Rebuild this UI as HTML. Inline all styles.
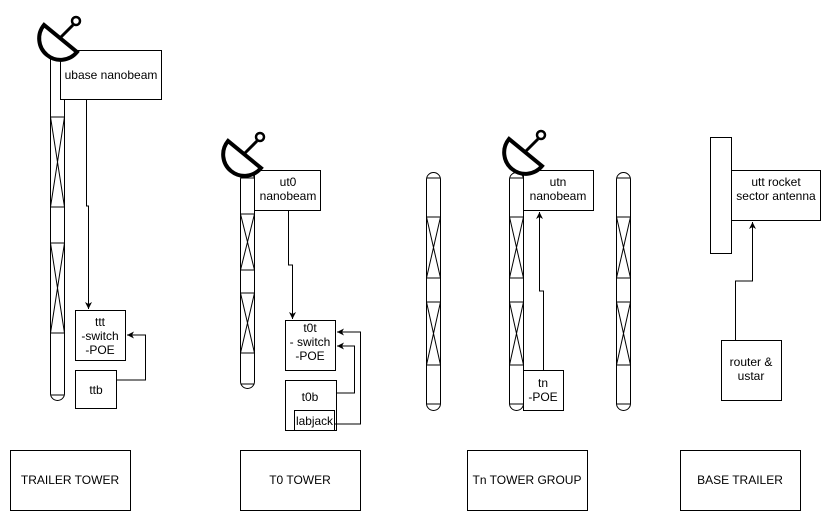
<!DOCTYPE html>
<html><head><meta charset="utf-8"><style>
html,body{margin:0;padding:0;background:#fff;}
svg{display:block;font-family:"Liberation Sans",Arial,sans-serif;font-size:12px;}
</style></head><body>
<svg width="831" height="521" viewBox="0 0 831 521" xmlns="http://www.w3.org/2000/svg">
<defs>
<marker id="ar" markerWidth="8" markerHeight="8" refX="7" refY="4" orient="auto" markerUnits="userSpaceOnUse">
<path d="M0,0.5 L7,4 L0,7.5 L2,4 Z" fill="#000"/></marker>
</defs>
<g fill="none" stroke="#000" stroke-width="1">
<rect x="50.5" y="50.5" width="14" height="350" rx="7" fill="#fff"/>
<path d="M50.5 56H64.5M50.5 117H64.5M50.5 207H64.5M50.5 243H64.5M50.5 333H64.5M50.5 395H64.5M50.5 117L64.5 207M64.5 117L50.5 207M50.5 243L64.5 333M64.5 243L50.5 333"/>
<rect x="240.5" y="172.5" width="14" height="216" rx="7" fill="#fff"/>
<path d="M240.5 178H254.5M240.5 214H254.5M240.5 270H254.5M240.5 293H254.5M240.5 353H254.5M240.5 384H254.5M240.5 214L254.5 270M254.5 214L240.5 270M240.5 293L254.5 353M254.5 293L240.5 353"/>
<g id="tn1">
<rect x="426.5" y="172.5" width="14" height="238" rx="7" fill="#fff"/>
<path d="M426.5 178H440.5M426.5 217H440.5M426.5 278H440.5M426.5 302H440.5M426.5 365H440.5M426.5 404H440.5M426.5 217L440.5 278M440.5 217L426.5 278M426.5 302L440.5 365M440.5 302L426.5 365"/>
</g>
<use href="#tn1" x="83"/>
<use href="#tn1" x="190"/>
<rect x="710.5" y="137.5" width="21" height="116" fill="#fff"/>
</g>
<g fill="#fff" stroke="#000" stroke-width="1">
<rect x="60.5" y="50.5" width="101" height="49"/>
<rect x="75.5" y="310.5" width="50" height="50"/>
<rect x="75.5" y="370.5" width="41" height="38"/>
<rect x="254.5" y="170.5" width="66" height="40"/>
<rect x="285.5" y="320.5" width="50" height="50"/>
<rect x="285.5" y="380.5" width="51" height="50"/>
<rect x="294.5" y="410.5" width="40" height="20"/>
<rect x="523.5" y="170.5" width="70" height="40"/>
<rect x="523.5" y="370.5" width="40" height="40"/>
<rect x="731.5" y="170.5" width="89" height="50"/>
<rect x="721.5" y="340.5" width="60" height="60"/>
<rect x="10.5" y="450.5" width="120" height="60"/>
<rect x="240.5" y="450.5" width="120" height="60"/>
<rect x="467.5" y="450.5" width="120" height="60"/>
<rect x="680.5" y="450.5" width="120" height="60"/>
</g>
<g fill="none" stroke="#000" stroke-width="1" marker-end="url(#ar)">
<path d="M86.5 100V206H88.5V309"/>
<path d="M116.5 380H145.5V335H127"/>
<path d="M288.5 211V265H292.5V319"/>
<path d="M336.5 393H354.5V346H337"/>
<path d="M334.5 424H360.5V332H337"/>
<path d="M543.5 370V291H539.5V212"/>
<path d="M735.5 340V281H752.5V222"/>
</g>
<g id="dish" fill="none" stroke="#000">
<path d="M44 25 A21.3 21.3 0 0 0 77 52 Z" stroke-width="4" fill="#fff"/>
<path d="M60 38 L73 25" stroke-width="3"/>
<circle cx="76" cy="21" r="4" stroke-width="2.5" fill="#fff"/>
</g>
<use href="#dish" x="184" y="116"/>
<use href="#dish" x="465" y="114"/>
<g fill="#000" text-anchor="middle">
<text x="111" y="79">ubase nanobeam</text>
<text x="100" y="326">ttt</text><text x="100" y="340">-switch</text><text x="100" y="354">-POE</text>
<text x="96" y="394">ttb</text>
<text x="288" y="186">ut0</text><text x="288" y="200">nanobeam</text>
<text x="310" y="332">t0t</text><text x="310" y="346">- switch</text><text x="310" y="360">-POE</text>
<text x="310" y="401">t0b</text>
<text x="314.5" y="425" textLength="37" lengthAdjust="spacingAndGlyphs">labjack</text>
<text x="558" y="186">utn</text><text x="558" y="200">nanobeam</text>
<text x="543" y="387">tn</text><text x="543" y="401">-POE</text>
<text x="776" y="186">utt rocket</text><text x="776" y="200">sector antenna</text>
<text x="751" y="366">router &amp;</text><text x="751" y="380">ustar</text>
<text x="70" y="484">TRAILER TOWER</text>
<text x="300" y="484">T0 TOWER</text>
<text x="527" y="484">Tn TOWER GROUP</text>
<text x="740" y="484">BASE TRAILER</text>
</g>
</svg>
</body></html>
